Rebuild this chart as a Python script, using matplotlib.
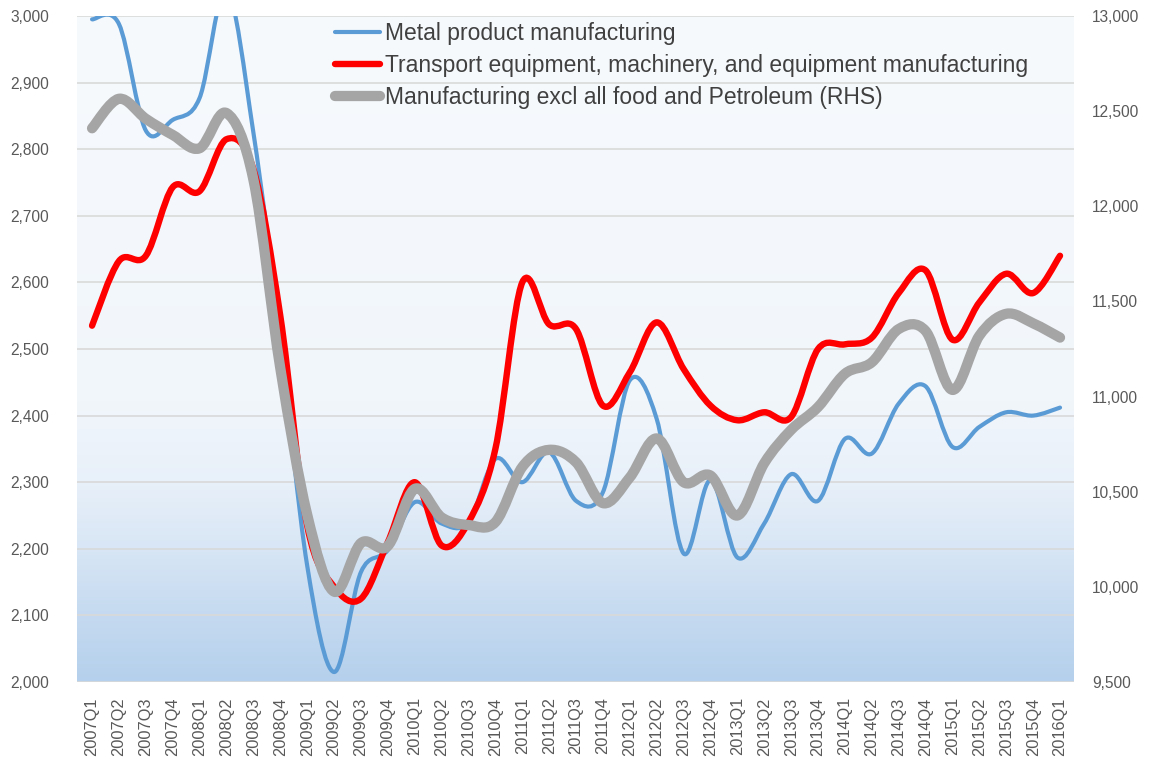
import numpy as np
import matplotlib
matplotlib.use("Agg")
import matplotlib.pyplot as plt
from matplotlib.path import Path
from matplotlib.patches import PathPatch
from matplotlib.colors import LinearSegmentedColormap
from matplotlib.lines import Line2D
from matplotlib.ticker import FuncFormatter

plt.rcParams['font.family'] = ['Liberation Sans', 'DejaVu Sans']

quarters = ["2007Q1", "2007Q2", "2007Q3", "2007Q4",
            "2008Q1", "2008Q2", "2008Q3", "2008Q4",
            "2009Q1", "2009Q2", "2009Q3", "2009Q4",
            "2010Q1", "2010Q2", "2010Q3", "2010Q4",
            "2011Q1", "2011Q2", "2011Q3", "2011Q4",
            "2012Q1", "2012Q2", "2012Q3", "2012Q4",
            "2013Q1", "2013Q2", "2013Q3", "2013Q4",
            "2014Q1", "2014Q2", "2014Q3", "2014Q4",
            "2015Q1", "2015Q2", "2015Q3", "2015Q4",
            "2016Q1"]

metal = [2995, 2988, 2828, 2844, 2877, 3040, 2825, 2515,
         2175, 2015, 2165, 2198, 2270, 2238, 2240, 2335,
         2300, 2345, 2272, 2285, 2453, 2395, 2193, 2303,
         2187, 2238, 2312, 2272, 2365, 2343, 2418, 2444,
         2353, 2383, 2405, 2400, 2412]

transport = [2535, 2632, 2640, 2743, 2737, 2815, 2770, 2550,
             2235, 2143, 2125, 2210, 2300, 2205, 2240, 2350,
             2600, 2537, 2530, 2415, 2465, 2540, 2470, 2415,
             2393, 2405, 2398, 2500, 2507, 2517, 2584, 2618,
             2514, 2570, 2613, 2584, 2640]

manuf_rhs = [12410, 12565, 12460, 12375, 12305, 12490, 12140, 11150,
             10380, 9975, 10230, 10215, 10515, 10365, 10325, 10340,
             10630, 10720, 10655, 10440, 10575, 10780, 10550, 10585,
             10375, 10650, 10825, 10945, 11120, 11180, 11355, 11345,
             11035, 11320, 11435, 11385, 11310]

labels = ["Metal product manufacturing",
          "Transport equipment, machinery, and equipment manufacturing",
          "Manufacturing excl all food and Petroleum (RHS)"]
colors = ["#5b9bd5", "#ff0000", "#a5a5a5"]
widths = [3.0, 4.6, 7.4]

left_ticks = list(range(2000, 3001, 100))
right_ticks = list(range(9500, 13001, 500))


def smooth_path(xs, ys):
    xs = np.asarray(xs, float)
    ys = np.asarray(ys, float)
    n = len(xs)
    verts = [(xs[0], ys[0])]
    codes = [Path.MOVETO]
    for i in range(n - 1):
        p0 = i - 1 if i > 0 else i
        p3 = i + 2 if i + 2 < n else i + 1
        c1 = (xs[i] + (xs[i + 1] - xs[p0]) / 6.0, ys[i] + (ys[i + 1] - ys[p0]) / 6.0)
        c2 = (xs[i + 1] - (xs[p3] - xs[i]) / 6.0, ys[i + 1] - (ys[p3] - ys[i]) / 6.0)
        verts += [c1, c2, (xs[i + 1], ys[i + 1])]
        codes += [Path.CURVE4] * 3
    return Path(verts, codes)


W, H = 1153, 762
fig = plt.figure(figsize=(W / 100, H / 100), dpi=100)
fig.patch.set_facecolor("white")
ax = fig.add_axes([77 / W, (H - 682) / H, (1074 - 77) / W, (682 - 16) / H])
ax2 = ax.twinx()

x = np.arange(len(quarters))
xlim = (-0.56, len(quarters) - 1 + 0.52)
ax.set_xlim(*xlim)
ax.set_ylim(2000, 3000)
ax2.set_ylim(9500, 13000)

# gradient background of plot area
cmap = LinearSegmentedColormap.from_list("bg", [
    (0.0, "#b5d0ec"), (0.1, "#c5daf0"), (0.2, "#d8e6f5"),
    (0.3, "#e8f0f9"), (0.42, "#f1f6fb"), (1.0, "#f7fafd")])
grad = np.linspace(0, 1, 256).reshape(-1, 1)
ax.imshow(grad, extent=(xlim[0], xlim[1], 2000, 3000), origin="lower",
          aspect="auto", cmap=cmap, zorder=0, interpolation="bicubic")
ax.set_xlim(*xlim)
ax.set_ylim(2000, 3000)

ax.set_yticks(left_ticks)
ax2.set_yticks(right_ticks)
fmt = FuncFormatter(lambda v, p: f"{int(v):,}")
ax.yaxis.set_major_formatter(fmt)
ax2.yaxis.set_major_formatter(fmt)
ax.grid(axis="y", color="#d9d9d9", linewidth=1.2, zorder=1)
ax.set_axisbelow(True)

ax.set_xticks(x)
ax.set_xticklabels(quarters, rotation=90, fontsize=11.8, color="#595959")
ax.tick_params(axis="x", length=0, pad=11)
ax.tick_params(axis="y", length=0, pad=20, labelsize=11.2, labelcolor="#595959")
ax2.tick_params(axis="y", length=0, pad=13, labelsize=11.2, labelcolor="#595959")
for a in (ax, ax2):
    for s in a.spines.values():
        s.set_visible(False)

for series, col, lw, target in [(metal, colors[0], widths[0], ax),
                                (transport, colors[1], widths[1], ax),
                                (manuf_rhs, colors[2], widths[2], ax2)]:
    patch = PathPatch(smooth_path(x, series), fill=False, edgecolor=col,
                      linewidth=lw, capstyle="round", joinstyle="round",
                      transform=target.transData, zorder=3)
    target.add_patch(patch)

handles = [Line2D([], [], color=c, linewidth=w, solid_capstyle="round")
           for c, w in zip(colors, widths)]
leg = ax2.legend(handles, labels, loc="upper left",
                 bbox_to_anchor=(335 / W, 1 - 22 / H), bbox_transform=fig.transFigure,
                 frameon=False, fontsize=16.5, handlelength=1.96, handletextpad=0.22,
                 borderpad=0, borderaxespad=0, labelspacing=0.39)
for t in leg.get_texts():
    t.set_color("#404040")

fig.savefig("out.png", dpi=100)
